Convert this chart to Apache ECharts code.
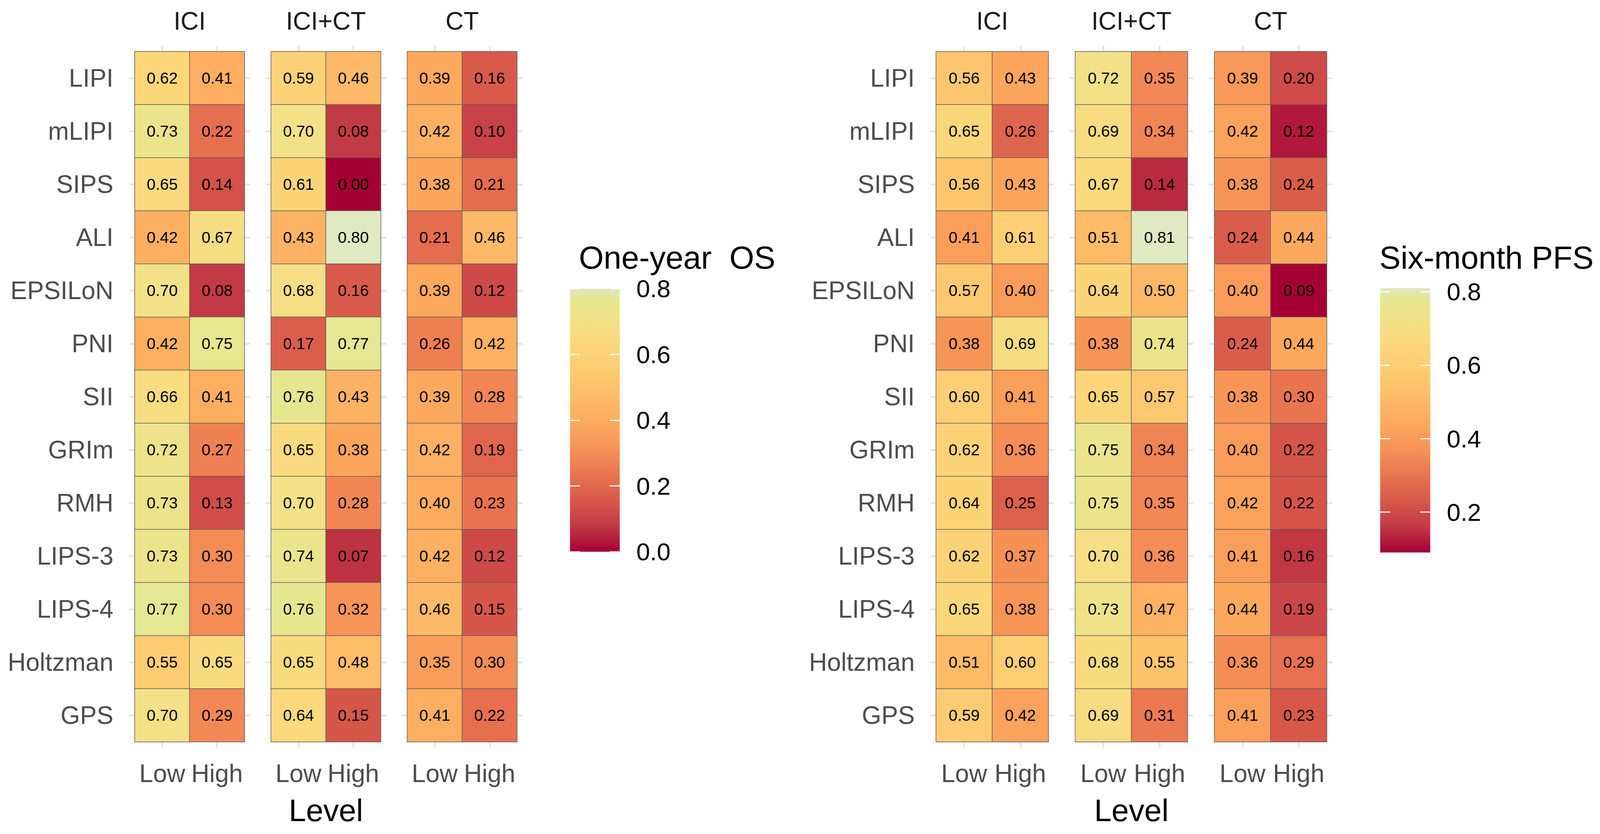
<!DOCTYPE html>
<html>
<head>
<meta charset="utf-8">
<script src="https://cdn.jsdelivr.net/npm/echarts@6/dist/echarts.min.js"></script>
<style>
html,body{margin:0;padding:0;background:#fff;overflow:hidden;}
#chart{position:absolute;left:0;top:0;}
</style>
</head>
<body>
<div id="chart"></div>
<script>
// ---------------- DATA ----------------
const scores = ['LIPI','mLIPI','SIPS','ALI','EPSILoN','PNI','SII','GRIm','RMH','LIPS-3','LIPS-4','Holtzman','GPS'];
const levels = ['Low','High'];
const treatments = ['ICI','ICI+CT','CT'];

// One-year OS
const os_ICI_Low    = [0.62,0.73,0.65,0.42,0.70,0.42,0.66,0.72,0.73,0.73,0.77,0.55,0.70];
const os_ICI_High   = [0.41,0.22,0.14,0.67,0.08,0.75,0.41,0.27,0.13,0.30,0.30,0.65,0.29];
const os_ICICT_Low  = [0.59,0.70,0.61,0.43,0.68,0.17,0.76,0.65,0.70,0.74,0.76,0.65,0.64];
const os_ICICT_High = [0.46,0.08,0.00,0.80,0.16,0.77,0.43,0.38,0.28,0.07,0.32,0.48,0.15];
const os_CT_Low     = [0.39,0.42,0.38,0.21,0.39,0.26,0.39,0.42,0.40,0.42,0.46,0.35,0.41];
const os_CT_High    = [0.16,0.10,0.21,0.46,0.12,0.42,0.28,0.19,0.23,0.12,0.15,0.30,0.22];

// Six-month PFS
const pfs_ICI_Low    = [0.56,0.65,0.56,0.41,0.57,0.38,0.60,0.62,0.64,0.62,0.65,0.51,0.59];
const pfs_ICI_High   = [0.43,0.26,0.43,0.61,0.40,0.69,0.41,0.36,0.25,0.37,0.38,0.60,0.42];
const pfs_ICICT_Low  = [0.72,0.69,0.67,0.51,0.64,0.38,0.65,0.75,0.75,0.70,0.73,0.68,0.69];
const pfs_ICICT_High = [0.35,0.34,0.14,0.81,0.50,0.74,0.57,0.34,0.35,0.36,0.47,0.55,0.31];
const pfs_CT_Low     = [0.39,0.42,0.38,0.24,0.40,0.24,0.38,0.40,0.42,0.41,0.44,0.36,0.41];
const pfs_CT_High    = [0.20,0.12,0.24,0.44,0.09,0.44,0.30,0.22,0.22,0.16,0.19,0.29,0.23];

const legendTitles = ['One-year  OS', 'Six-month PFS'];
const osTicks  = [0.0, 0.2, 0.4, 0.6, 0.8];
const pfsTicks = [0.2, 0.4, 0.6, 0.8];
const xTitle = 'Level';

// ---------------- STYLE / LAYOUT ----------------
const BASE_W = 4345, BASE_H = 2136;
const vw = window.innerWidth || BASE_W, vh = window.innerHeight || BASE_H;
const SX = vw / BASE_W, SY = vh / BASE_H;
const S = Math.sqrt(SX * SY);
const sx = v => v * SX, sy = v => v * SY, s = v => v * S;

const FONT = "'Liberation Sans', Arial, Helvetica, sans-serif";
const PAL = [[0,'#a50034'],[0.1,'#c23a45'],[0.2,'#d85a4b'],[0.3,'#ea7751'],[0.4,'#f79457'],
             [0.5,'#fdac5f'],[0.6,'#fdbd69'],[0.7,'#fdcd73'],[0.8,'#fbd97c'],[0.9,'#eee38a'],
             [0.96,'#e4e790'],[1.0,'#dfe9c2']];
function hex2rgb(h){return [parseInt(h.substr(1,2),16),parseInt(h.substr(3,2),16),parseInt(h.substr(5,2),16)];}
function palAt(t){
  for(let i=1;i<PAL.length;i++){
    if(t<=PAL[i][0]){
      const a=PAL[i-1], b=PAL[i]; const f=(t-a[0])/(b[0]-a[0]);
      const ca=hex2rgb(a[1]), cb=hex2rgb(b[1]);
      return 'rgb('+ca.map((v,k)=>Math.round(v+(cb[k]-v)*f)).join(',')+')';
    }
  }
  return PAL[PAL.length-1][1];
}
const palColors = []; for(let i=0;i<=100;i++) palColors.push(palAt(i/100));

const panelLefts = [[366,736,1106],[2542,2920,3298]];
const panelWidths = [298, 305];
const panelTop = 132, panelHeight = 1768;
const legendBoxes = [{left:1548, top:739, width:135, height:674}, {left:3748, top:738, width:136, height:677}];
const legendTitlePos = [[1572, 618],[3746, 618]];
const stubStyle = {color:'#e6e6e6', width:s(5)};

// ---------------- BUILD ----------------
const charts = [
  {cols:[[os_ICI_Low,os_ICI_High],[os_ICICT_Low,os_ICICT_High],[os_CT_Low,os_CT_High]], ticks: osTicks},
  {cols:[[pfs_ICI_Low,pfs_ICI_High],[pfs_ICICT_Low,pfs_ICICT_High],[pfs_CT_Low,pfs_CT_High]], ticks: pfsTicks}
];

const grid=[], xAxis=[], yAxis=[], series=[], visualMap=[], graphic=[];

charts.forEach((ch, c) => {
  const all = [].concat(...ch.cols.map(p => [].concat(...p)));
  ch.min = Math.min(...all); ch.max = Math.max(...all);
  const seriesIdx = [];
  ch.cols.forEach((pair, t) => {
    const g = grid.length;
    grid.push({left: sx(panelLefts[c][t]), top: sy(panelTop), width: sx(panelWidths[c]), height: sy(panelHeight), containLabel:false, outerBoundsMode:'none'});
    const tick = {show:true, alignWithLabel:true, length:s(15), lineStyle:stubStyle};
    xAxis.push({gridIndex:g, type:'category', data:levels, position:'bottom',
      axisLine:{show:false}, axisTick:tick,
      axisLabel:{interval:0, hideOverlap:false, fontSize:s(66), color:'#4d4d4d', margin:sy(49), fontFamily:FONT},
      name: t===1 ? xTitle : '', nameLocation:'middle', nameGap:sy(135), nameMoveOverlap:false,
      nameTextStyle:{fontSize:s(82), color:'#000', fontFamily:FONT}});
    xAxis.push({gridIndex:g, type:'category', data:levels, position:'top',
      axisLine:{show:false}, axisTick:tick, axisLabel:{show:false},
      name: treatments[t], nameLocation:'middle', nameGap:sy(46), nameMoveOverlap:false,
      nameTextStyle:{fontSize:s(66), color:'#1a1a1a', fontFamily:FONT}});
    yAxis.push({gridIndex:g, type:'category', data:scores, inverse:true, position:'left',
      axisLine:{show:false}, axisTick:tick,
      axisLabel:{show: t===0, interval:0, hideOverlap:false, fontSize:s(66), color:'#4d4d4d', margin:sx(58), fontFamily:FONT}});
    yAxis.push({gridIndex:g, type:'category', data:scores, inverse:true, position:'right',
      axisLine:{show:false}, axisTick:tick, axisLabel:{show:false}});
    const data = [];
    pair.forEach((arr, xi) => arr.forEach((v, yi) => data.push([xi, yi, v])));
    seriesIdx.push(series.length);
    series.push({type:'heatmap', xAxisIndex:2*g, yAxisIndex:2*g, data,
      label:{show:true, fontSize:s(42), color:'#000', fontFamily:FONT, textBorderWidth:0,
        formatter: p => p.value[2].toFixed(2)},
      itemStyle:{borderColor:'#5a5a5a', borderWidth:s(1.5)},
      emphasis:{disabled:true}});
  });
  visualMap.push({type:'continuous', show:false, min:ch.min, max:ch.max, dimension:2,
    seriesIndex:seriesIdx, inRange:{color:palColors}});
});

// legend colorbars
charts.forEach((ch, c) => {
  const g = grid.length;
  const lb = legendBoxes[c];
  grid.push({left:sx(lb.left), top:sy(lb.top), width:sx(lb.width), height:sy(lb.height), containLabel:false, outerBoundsMode:'none'});
  const xi = xAxis.length;
  xAxis.push({gridIndex:g, type:'category', data:[''], show:false});
  const yi = yAxis.length;
  const whiteTick = {show:true, inside:true, length:sx(27), lineStyle:{color:'#ffffff', width:s(3)}, customValues: ch.ticks};
  yAxis.push({gridIndex:g, type:'value', min:ch.min, max:ch.max, position:'right', z:10,
    axisLine:{show:false}, splitLine:{show:false}, axisTick:whiteTick,
    axisLabel:{show:true, customValues: ch.ticks, formatter: v => Number(v).toFixed(1),
      fontSize:s(65), color:'#000', margin:sx(45), fontFamily:FONT}});
  yAxis.push({gridIndex:g, type:'value', min:ch.min, max:ch.max, position:'left', z:10,
    axisLine:{show:false}, splitLine:{show:false}, axisTick:whiteTick, axisLabel:{show:false}});
  const grad = new echarts.graphic.LinearGradient(0,1,0,0, PAL.map(st => ({offset:st[0], color:st[1]})));
  series.push({type:'custom', xAxisIndex:xi, yAxisIndex:yi, silent:true, z:1,
    data:[[0, ch.min, ch.max]],
    renderItem:(params, api) => {
      const p1 = api.coord([0, api.value(1)]);
      const p2 = api.coord([0, api.value(2)]);
      const w = api.size([1, 0])[0];
      return {type:'rect', shape:{x:p1[0]-w/2, y:p2[1], width:w, height:p1[1]-p2[1]}, style:{fill:grad}};
    }});
  graphic.push({type:'text', left:sx(legendTitlePos[c][0]), top:sy(legendTitlePos[c][1]),
    style:{text:legendTitles[c], fontSize:s(84), fontFamily:FONT, fill:'#000'}});
});

const dom = document.getElementById('chart');
const CW = Math.round(vw), CH = Math.round(vh);
dom.style.width = CW + 'px'; dom.style.height = CH + 'px';
const chart = echarts.init(dom, null, {renderer:'svg', width:CW, height:CH});
chart.setOption({
  backgroundColor:'#ffffff',
  animation:false,
  textStyle:{fontFamily:FONT},
  grid, xAxis, yAxis, series, visualMap, graphic
});
</script>
</body>
</html>
